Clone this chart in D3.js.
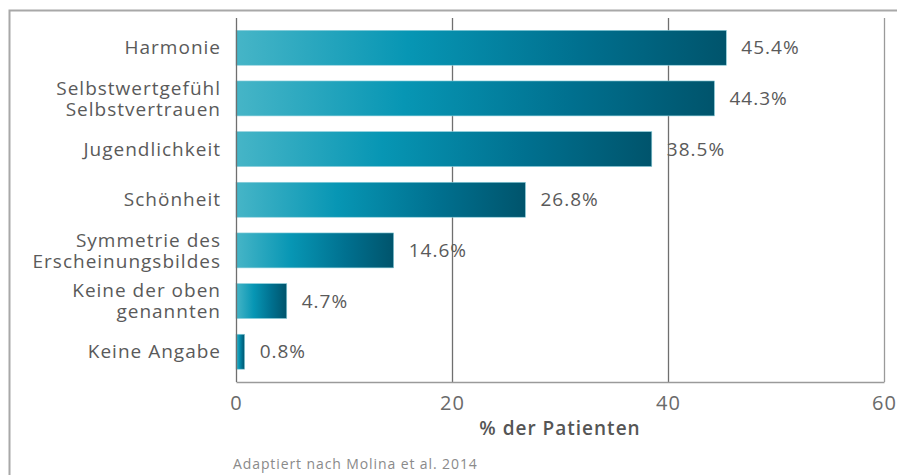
<!doctype html>
<html>
  <head>
    <meta charset="utf-8">
    <title>% der Patienten</title>
    <script src="https://cdn.jsdelivr.net/npm/d3@7"></script>
    <style>
      body { margin: 0; background: #fff; }
      text { font-family: "Open Sans", sans-serif; }
    </style>
  </head>
  <body>
    <script>
      const categories = [
        ['Harmonie'],
        ['Selbstwertgefühl', 'Selbstvertrauen'],
        ['Jugendlichkeit'],
        ['Schönheit'],
        ['Symmetrie des', 'Erscheinungsbildes'],
        ['Keine der oben', 'genannten'],
        ['Keine Angabe']
      ];
      const values = [45.4, 44.3, 38.5, 26.8, 14.6, 4.7, 0.8];
      const xTicks = [0, 20, 40, 60];
      const xLabel = '% der Patienten';
      const source = 'Adaptiert nach Molina et al. 2014';

      const width = 897, height = 475;
      const plot = { left: 236, right: 884, top: 18, bottom: 382 };

      const svg = d3.select('body').append('svg')
          .attr('width', width)
          .attr('height', height);

      // Verlauf für die Balken
      const grad = svg.append('defs').append('linearGradient')
          .attr('id', 'barGrad')
          .attr('x1', '0%').attr('x2', '100%').attr('y1', '0%').attr('y2', '0%');
      grad.append('stop').attr('offset', '0%').attr('stop-color', '#46b5c7');
      grad.append('stop').attr('offset', '35%').attr('stop-color', '#0796b4');
      grad.append('stop').attr('offset', '70%').attr('stop-color', '#00708f');
      grad.append('stop').attr('offset', '100%').attr('stop-color', '#00546c');

      // Rahmen
      svg.append('path')
          .attr('d', `M9.5,${height} V10.5 H${width}`)
          .attr('fill', 'none')
          .attr('stroke', '#a8a8a8')
          .attr('stroke-width', 2);

      const x = d3.scaleLinear()
          .domain([0, 60])
          .range([plot.left, plot.right]);

      const y = d3.scaleBand()
          .domain(d3.range(values.length))
          .range([22.7, 376.8])
          .paddingInner(0.31)
          .paddingOuter(0.15);

      // Gitterlinien
      svg.append('g').selectAll('line')
        .data(xTicks.slice(1))
        .join('line')
          .attr('x1', d => x(d) + 0.5)
          .attr('x2', d => x(d) + 0.5)
          .attr('y1', plot.top)
          .attr('y2', plot.bottom)
          .attr('stroke', d => d === 60 ? '#9a9a9a' : '#6f6f6f')
          .attr('stroke-width', 1.3);

      // x-Achse
      const xAxis = d3.axisBottom(x)
          .tickValues(xTicks)
          .tickSize(0)
          .tickPadding(14);
      const gx = svg.append('g')
          .attr('transform', `translate(0, ${plot.bottom})`)
          .call(xAxis);
      gx.select('.domain').attr('stroke', '#9a9a9a').attr('stroke-width', 1.5);
      gx.selectAll('text')
          .attr('fill', '#6a6a6a')
          .style('font-size', '20px')
          .style('letter-spacing', '1px');

      // Balken
      svg.append('g').selectAll('rect')
        .data(values)
        .join('rect')
          .attr('x', x(0))
          .attr('y', (d, i) => y(i))
          .attr('width', d => x(d) - x(0))
          .attr('height', y.bandwidth())
          .attr('fill', 'url(#barGrad)')
          .attr('stroke', '#8fd0dc')
          .attr('stroke-width', 0.6);

      // y-Achse
      svg.append('line')
          .attr('x1', plot.left + 0.5).attr('x2', plot.left + 0.5)
          .attr('y1', plot.top).attr('y2', plot.bottom)
          .attr('stroke', '#6f6f6f')
          .attr('stroke-width', 1.3);

      // Kategorien
      const lineH = 21;
      svg.append('g').selectAll('text')
        .data(categories)
        .join('text')
          .attr('text-anchor', 'end')
          .attr('fill', '#5a5a5a')
          .style('font-size', '19px')
          .style('letter-spacing', '1px')
          .each(function (lines, i) {
            const cy = y(i) + y.bandwidth() / 2;
            const t = d3.select(this);
            lines.forEach((s, k) => {
              t.append('tspan')
                  .attr('x', 221)
                  .attr('y', cy + (k - (lines.length - 1) / 2) * lineH)
                  .attr('dy', '0.35em')
                  .text(s);
            });
          });

      // Wertbeschriftungen
      svg.append('g').selectAll('text')
        .data(values)
        .join('text')
          .attr('x', d => x(d) + 15)
          .attr('y', (d, i) => y(i) + y.bandwidth() / 2)
          .attr('dy', '0.35em')
          .attr('fill', '#5a5a5a')
          .style('font-size', '19px')
          .style('letter-spacing', '1px')
          .text(d => d.toFixed(1) + '%');

      // Achsentitel
      svg.append('text')
          .attr('x', (plot.left + plot.right) / 2)
          .attr('y', 435)
          .attr('text-anchor', 'middle')
          .attr('fill', '#555')
          .style('font-size', '19px')
          .style('font-weight', 600)
          .style('letter-spacing', '1px')
          .text(xLabel);

      // Quelle
      svg.append('text')
          .attr('x', 233)
          .attr('y', 469)
          .attr('fill', '#8a8a8a')
          .style('font-size', '14px')
          .style('letter-spacing', '0.9px')
          .text(source);
    </script>
  </body>
</html>
